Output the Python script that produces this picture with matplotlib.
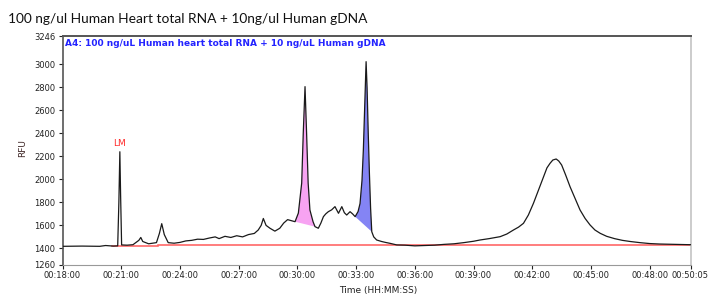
import matplotlib
matplotlib.use('Agg')
import matplotlib.pyplot as plt
import numpy as np

# electropherogram trace (minutes, RFU)
time_min = [18.0, 19.0, 19.9, 20.2, 20.6, 20.82, 20.88, 20.93, 20.97, 21.02,
            21.3, 21.6, 21.9, 22.0, 22.1, 22.4, 22.8, 22.95, 23.07, 23.2,
            23.4, 23.7, 24.0, 24.3, 24.6, 24.9, 25.2, 25.5, 25.8, 26.0,
            26.3, 26.6, 26.9, 27.2, 27.5, 27.8, 28.0, 28.15, 28.26, 28.4,
            28.6, 28.85, 29.1, 29.3, 29.5, 29.7, 29.88, 30.05, 30.22, 30.3,
            30.39, 30.47, 30.55, 30.64, 30.8, 30.9, 31.07, 31.2, 31.33, 31.45,
            31.58, 31.75, 31.92, 32.1, 32.27, 32.4, 32.52, 32.69, 32.82, 32.95,
            33.1, 33.2, 33.3, 33.37, 33.45, 33.51, 33.56, 33.62, 33.68, 33.74,
            33.8, 33.9, 34.05, 34.3, 34.5, 34.73, 35.08, 35.5, 36.0, 36.5,
            37.0, 37.5, 38.0, 38.5, 39.0, 39.33, 39.8, 40.36, 40.7, 41.04,
            41.3, 41.55, 41.8, 42.06, 42.3, 42.57, 42.75, 42.91, 43.05, 43.22,
            43.35, 43.5, 43.7, 43.93, 44.2, 44.44, 44.7, 44.95, 45.2, 45.47,
            45.8, 46.2, 46.6, 47.0, 47.5, 48.0, 48.5, 49.0, 49.5, 50.0833]
rfu = [1418, 1420, 1418, 1425, 1420, 1422, 1800, 2240, 1850, 1430,
       1428, 1432, 1470, 1495, 1460, 1440, 1450, 1530, 1615, 1520,
       1450, 1445, 1452, 1465, 1470, 1480, 1478, 1490, 1500, 1485,
       1505, 1495, 1510, 1500, 1520, 1530, 1560, 1600, 1660, 1600,
       1575, 1550, 1575, 1620, 1650, 1640, 1632, 1707, 1968, 2403,
       2806, 2403, 1968, 1734, 1632, 1589, 1575, 1620, 1676, 1700,
       1719, 1735, 1763, 1705, 1763, 1710, 1690, 1719, 1700, 1676,
       1720, 1790, 1990, 2255, 2690, 3023, 2800, 2400, 2050, 1750,
       1545, 1500, 1473, 1460, 1452, 1444, 1430, 1428, 1422, 1425,
       1428, 1435, 1440, 1450, 1462, 1473, 1485, 1502, 1525, 1560,
       1585, 1618, 1690, 1792, 1900, 2023, 2100, 2140, 2168, 2177,
       2160, 2125, 2040, 1936, 1830, 1734, 1660, 1604, 1560, 1531,
       1505, 1485, 1470, 1460, 1450, 1442, 1438, 1436, 1434, 1432]

# integrated peaks (start, end in minutes)
pink_peak = (29.88, 30.9)
blue_peak = (32.95, 33.8)

# red baseline segments: (start, end, level)
baseline_segs = [(20.55, 22.9, 1420), (22.9, 50.0833, 1428)]

lm_time, lm_rfu = 20.93, 2240

xticks_min = [18, 21, 24, 27, 30, 33, 36, 39, 42, 45, 48, 50 + 5 / 60]
yticks = [1260, 1400, 1600, 1800, 2000, 2200, 2400, 2600, 2800, 3000, 3246]

title = '100 ng/ul Human Heart total RNA + 10ng/ul Human gDNA'
header = 'A4: 100 ng/uL Human heart total RNA + 10 ng/uL Human gDNA'


def hms(m):
    s = int(round(m * 60))
    return '%02d:%02d:%02d' % (s // 3600, (s // 60) % 60, s % 60)


W, H = 709, 298
fig = plt.figure(figsize=(W / 100, H / 100), dpi=100)
ax = fig.add_axes([62.5 / W, 1 - 264.5 / H, 628 / W, 228.5 / H])

t = np.array(time_min)
y = np.array(rfu)

for (a, b), col in [(pink_peak, '#f7a3f2'), (blue_peak, '#8484f4')]:
    m = (t >= a - 1e-9) & (t <= b + 1e-9)
    ax.fill(t[m], y[m], color=col, lw=0, zorder=1)

for a, b, lev in baseline_segs:
    ax.plot([a, b], [lev, lev], color='#ff5a5a', lw=1.1, zorder=2)

ax.plot(t, y, color='#1a1a1a', lw=0.9, zorder=3)

ax.text(lm_time, lm_rfu + 35, 'LM', color='#ff2a2a', fontsize=6.5,
        ha='center', va='bottom')

ax.set_xlim(18, 50 + 5 / 60)
ax.set_ylim(1260, 3246)
ax.set_xticks(xticks_min)
ax.set_xticklabels([hms(v) for v in xticks_min])
ax.set_yticks(yticks)
ax.tick_params(labelsize=6, colors='#222222', length=3, width=0.8, pad=2)

ax.spines['top'].set_color('#555555')
ax.spines['top'].set_linewidth(1.4)
ax.spines['left'].set_color('#555555')
ax.spines['left'].set_linewidth(1.2)
ax.spines['right'].set_color('#c4c4c4')
ax.spines['right'].set_linewidth(1.2)
ax.spines['bottom'].set_color('#999999')

fig.text(8 / W, 1 - 19 / H, title, fontsize=9.9, family='Lato',
         va='center', ha='left', color='#111111')
fig.text(65 / W, 1 - 44 / H, header, fontsize=6.5, fontweight='bold',
         color='#2323ff', va='center', ha='left')
fig.text(23 / W, 1 - 148 / H, 'RFU', rotation=90, fontsize=6.5,
         color='#402828', va='center', ha='center')
fig.text(378 / W, 1 - 291 / H, 'Time (HH:MM:SS)', fontsize=6.5,
         color='#222222', va='center', ha='center')

fig.savefig('out.png', dpi=100)
